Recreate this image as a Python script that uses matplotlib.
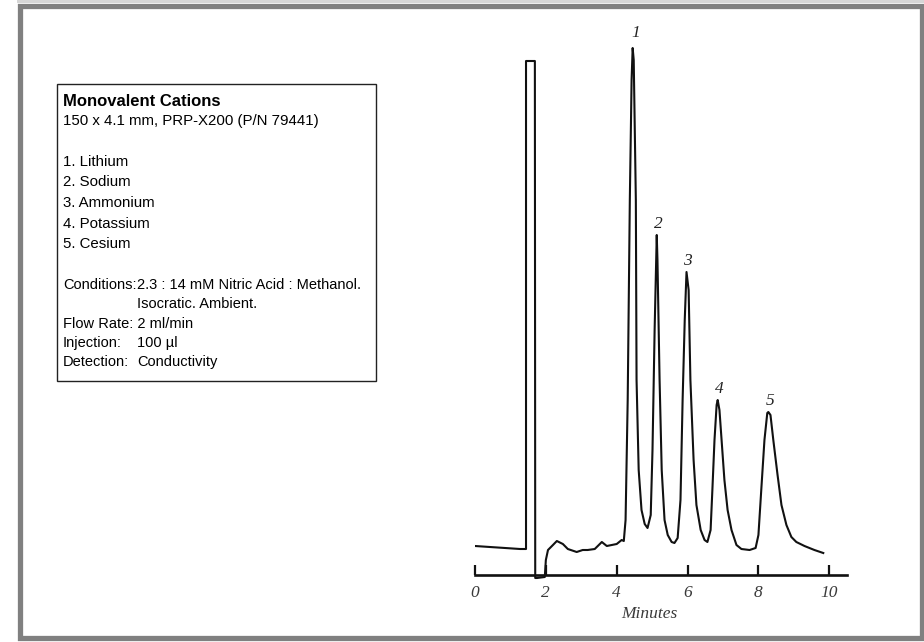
import matplotlib.pyplot as plt
from matplotlib.patches import Rectangle

minutes = [0.00, 0.42, 0.85, 1.27, 1.41, 1.44, 1.44, 1.69, 1.70, 1.75,
           1.97, 2.00, 2.06, 2.20, 2.31, 2.48, 2.62, 2.87, 3.04, 3.18,
           3.38, 3.58, 3.72, 3.86, 4.00, 4.14, 4.20, 4.25, 4.31, 4.37,
           4.42, 4.45, 4.48, 4.54, 4.56, 4.62, 4.70, 4.79, 4.87, 4.96,
           5.01, 5.07, 5.13, 5.15, 5.21, 5.27, 5.35, 5.44, 5.55, 5.63,
           5.72, 5.80, 5.86, 5.92, 5.97, 6.03, 6.08, 6.17, 6.25, 6.37,
           6.48, 6.56, 6.65, 6.70, 6.76, 6.82, 6.85, 6.90, 6.96, 7.04,
           7.13, 7.24, 7.38, 7.52, 7.75, 7.92, 8.00, 8.08, 8.17, 8.25,
           8.28, 8.34, 8.42, 8.54, 8.65, 8.79, 8.93, 9.07, 9.30, 9.58,
           9.83]
response = [2.9, 2.8, 2.7, 2.6, 2.6, 2.6, 51.4, 51.4, -0.3, -0.3,
            -0.2, 1.5, 2.5, 3.0, 3.4, 3.1, 2.6, 2.3, 2.5, 2.5,
            2.6, 3.3, 2.9, 3.0, 3.1, 3.5, 3.4, 5.5, 17.5, 37.5,
            49.5, 52.7, 51.5, 37.5, 19.5, 10.5, 6.5, 5.1, 4.7, 6.0,
            12.5, 24.5, 34.0, 31.5, 19.5, 10.5, 5.5, 4.0, 3.3, 3.2,
            3.7, 7.5, 17.5, 25.5, 30.3, 28.5, 19.5, 11.5, 7.0, 4.5,
            3.5, 3.3, 4.5, 8.5, 13.5, 17.0, 17.5, 16.5, 13.5, 9.5,
            6.5, 4.5, 3.0, 2.6, 2.5, 2.7, 4.0, 8.5, 13.5, 16.2,
            16.3, 16.0, 13.5, 10.0, 7.0, 5.0, 3.8, 3.3, 2.9, 2.5,
            2.2]

peak_ids = ['1', '2', '3', '4', '5']
peak_time = [4.45, 5.13, 5.97, 6.85, 8.28]
peak_height = [52.7, 34.0, 30.3, 17.5, 16.3]
tick_minutes = [0, 2, 4, 6, 8, 10]

box_title = 'Monovalent Cations'
box_column = '150 x 4.1 mm, PRP-X200 (P/N 79441)'
analytes = ['Lithium', 'Sodium', 'Ammonium', 'Potassium', 'Cesium']
cond_labels = ['Conditions:', '', 'Flow Rate: 2 ml/min', 'Injection:', 'Detection:']
cond_values = ['2.3 : 14 mM Nitric Acid : Methanol.', 'Isocratic. Ambient.', '', '100 µl', 'Conductivity']

W, H = 924, 642


def fx(px):
    return px / W


def fy(py):
    return 1 - py / H


fig = plt.figure(figsize=(W / 100, H / 100), dpi=100, facecolor='white')

# grey outer frame
fig.add_artist(Rectangle((fx(17), fy(3)), (W - 17) / W, 3 / H, transform=fig.transFigure,
                         facecolor='#d6d6d6', edgecolor='none'))
fig.add_artist(Rectangle((fx(19.5), fy(637.5)), 902 / W, 631.5 / H, transform=fig.transFigure,
                         fill=False, edgecolor='#808080', linewidth=3.8))

ax = fig.add_axes([fx(475), fy(585), (847 - 475) / W, (585 - 40) / H])
ax.plot(minutes, response, color='#111111', linewidth=1.5, solid_joinstyle='round')

ax.set_xlim(0, 10.5)
ax.set_ylim(-1.0, 53.5)
for s in ['left', 'right', 'top']:
    ax.spines[s].set_visible(False)
ax.spines['bottom'].set_position(('data', 0))
ax.spines['bottom'].set_linewidth(1.9)
ax.spines['bottom'].set_color('#111111')
ax.set_yticks([])
ax.set_xticks(tick_minutes)
ax.set_xticklabels([str(t) for t in tick_minutes])
ax.tick_params(axis='x', direction='in', length=7, width=1.6, color='#111111', pad=7)
for lab in ax.get_xticklabels():
    lab.set_fontfamily('Liberation Serif')
    lab.set_fontstyle('italic')
    lab.set_fontsize(12.5)
    lab.set_color('#3a3a3a')

# label "1" sits a bit higher above its apex
label_offsets = [(2, 5), (1, 2), (1, 2), (1, 2), (1, 2)]
for pid, t, h, off in zip(peak_ids, peak_time, peak_height, label_offsets):
    ax.annotate(pid, (t, h), xytext=off, textcoords='offset points', ha='center', va='bottom',
                fontsize=12.5, fontfamily='Liberation Serif', fontstyle='italic', color='#222222')

fig.text(fx(649), fy(614), 'Minutes', ha='center', va='center', fontsize=12.5,
         fontfamily='Liberation Serif', fontstyle='italic', color='#3a3a3a')

# info box
fig.add_artist(Rectangle((fx(57), fy(381)), (376 - 57) / W, (381 - 84) / H, transform=fig.transFigure,
                         fill=False, edgecolor='#222222', linewidth=1.0))
sans = 'Liberation Sans'
fig.text(fx(63), fy(101), box_title, fontsize=12, fontweight='bold', fontfamily=sans, va='center')
fig.text(fx(63), fy(121), box_column, fontsize=10.8, fontfamily=sans, va='center')
for i, name in enumerate(analytes):
    fig.text(fx(63), fy(162 + 20.5 * i), f'{i + 1}. {name}', fontsize=10.8, fontfamily=sans, va='center')
for i, (lab, val) in enumerate(zip(cond_labels, cond_values)):
    y = fy(285 + 19.3 * i)
    if lab:
        fig.text(fx(63), y, lab, fontsize=10.5, fontfamily=sans, va='center')
    if val:
        fig.text(fx(137), y, val, fontsize=10.5, fontfamily=sans, va='center')

fig.savefig('out.png', dpi=100, facecolor='white')
